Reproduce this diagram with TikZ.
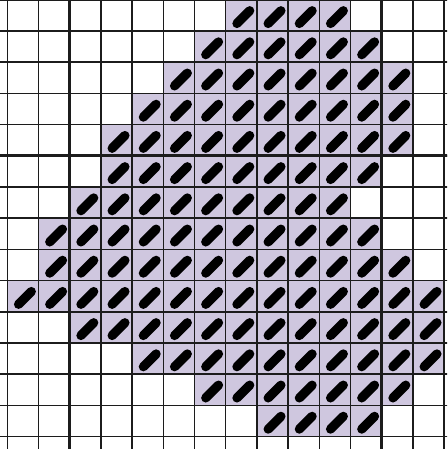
\documentclass[tikz,border=0pt]{standalone}
\definecolor{lav}{RGB}{207,199,223}
\definecolor{gridc}{RGB}{28,28,28}
\tikzset{
  cellfill/.style={fill=lav},
  stitch/.style={line width=9.2pt, line cap=round, black},
  thinline/.style={draw=gridc, line width=1.5pt},
  thickline/.style={draw=gridc, line width=3pt}
}
\begin{document}
\begin{tikzpicture}[x=31.2pt,y=-31.2pt]
\useasboundingbox (-0.234,0.0064) rectangle (14.093,14.397);
\clip (-0.234,0.0064) rectangle (14.093,14.397);
\fill[white] (-0.234,0.0064) rectangle (14.093,14.397);
\foreach \r/\a/\b in {0/7/10,1/6/11,2/5/12,3/4/12,4/3/12,5/3/11,6/2/10,7/1/11,8/1/12,9/0/13,10/2/13,11/4/13,12/6/12,13/8/11}{
  \foreach \c in {\a,...,\b}{
    \fill[cellfill] (\c,\r) rectangle ++(1,1);
    \draw[stitch] (\c+0.36,\r+0.76) -- (\c+0.77,\r+0.35);
  }
}
\foreach \k in {0,...,14}{
  \draw[thinline] (\k,-0.5) -- (\k,14.6);
  \draw[thinline] (-0.5,\k) -- (14.6,\k);
}
\draw[thickline] (2,-0.5) -- (2,14.6);
\draw[thickline] (12,-0.5) -- (12,14.6);
\draw[thickline] (-0.5,5) -- (14.6,5);
\end{tikzpicture}
\end{document}
